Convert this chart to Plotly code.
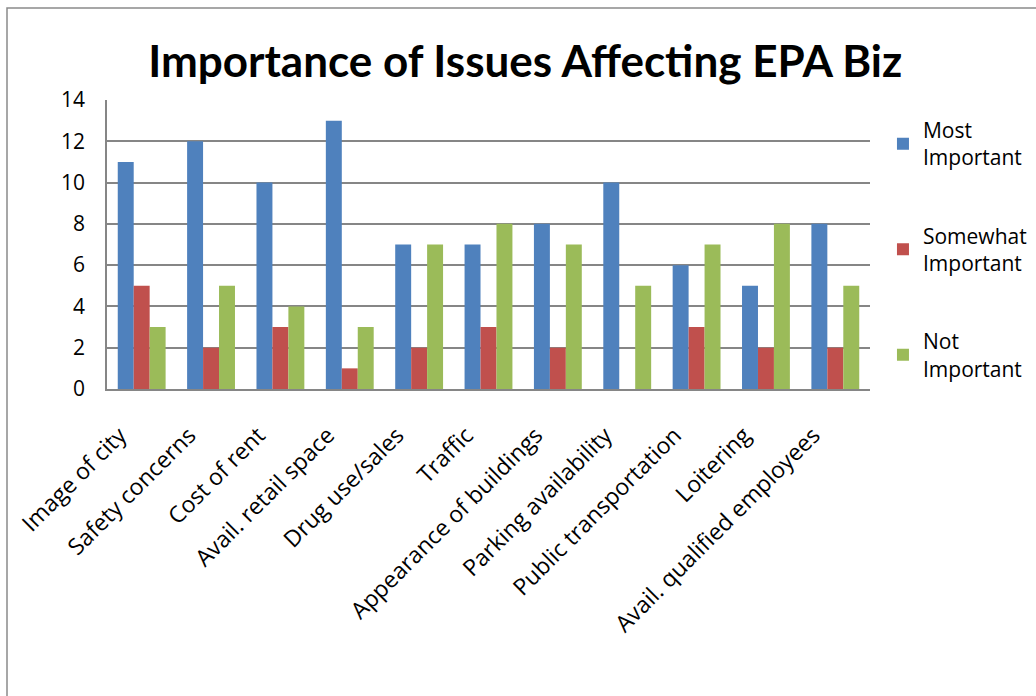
import plotly.graph_objects as go

categories = [
    "Image of city", "Safety concerns", "Cost of rent", "Avail. retail space",
    "Drug use/sales", "Traffic", "Appearance of buildings", "Parking availability",
    "Public transportation", "Loitering", "Avail. qualified employees",
]
most_important = [11, 12, 10, 13, 7, 7, 8, 10, 6, 5, 8]
somewhat_important = [5, 2, 3, 1, 2, 3, 2, 0, 3, 2, 2]
not_important = [3, 5, 4, 3, 7, 8, 7, 5, 7, 8, 5]

series_names = ["Most<br>Important", "Somewhat<br>Important", "Not<br>Important"]
series_values = [most_important, somewhat_important, not_important]
series_colors = ["#4F81BD", "#C0504D", "#9BBB59"]

TITLE_FONT = "Lato"
FONT = "Open Sans"
W, H = 1036, 696
L, R, T, B = 107, 166, 100, 307
pw, ph = W - L - R, H - T - B

fig = go.Figure()
for i, (name, vals, col) in enumerate(zip(series_names, series_values, series_colors)):
    fig.add_trace(go.Bar(
        x=categories, y=vals, name=name, marker_color=col,
        marker_line_width=0, legendgroup=f"g{i}",
    ))

# outer chart frame (left and top edges)
fx = lambda px: (px - L) / pw
fy = lambda py: (H - B - py) / ph
fig.add_shape(type="path", xref="paper", yref="paper",
              path=f"M {fx(7)} {fy(700)} L {fx(7)} {fy(8)} L {fx(1040)} {fy(8)}",
              line=dict(color="#8a8a8a", width=1.5))

fig.update_layout(
    width=W, height=H,
    margin=dict(l=L, r=R, t=T, b=B, autoexpand=False),
    paper_bgcolor="white", plot_bgcolor="white",
    barmode="group", bargap=0.31, bargroupgap=0,
    title=dict(text="<b>Importance of Issues Affecting EPA Biz</b>",
               font=dict(family=TITLE_FONT, size=44, color="black"),
               x=0.507, xanchor="center", y=0.912, yanchor="middle"),
    font=dict(family=FONT, size=20, color="black"),
    legend=dict(x=1.017, xanchor="left", y=0.966, yanchor="top",
                traceorder="grouped", tracegroupgap=48,
                font=dict(family=FONT, size=21, color="black"),
                itemwidth=30),
    xaxis=dict(tickangle=-45, showline=True, linecolor="#868686", linewidth=1.5,
               ticks="", tickfont=dict(family=FONT, size=23),
               ticklabelstandoff=22, ticklabelshift=-22),
    yaxis=dict(range=[0, 14], dtick=2, showgrid=True, gridcolor="#868686",
               gridwidth=1.5, showline=True, linecolor="#868686", linewidth=1.5,
               ticks="", zeroline=False, tickfont=dict(family=FONT, size=21),
               ticklabelstandoff=16),
)

fig.write_html("out.html")
